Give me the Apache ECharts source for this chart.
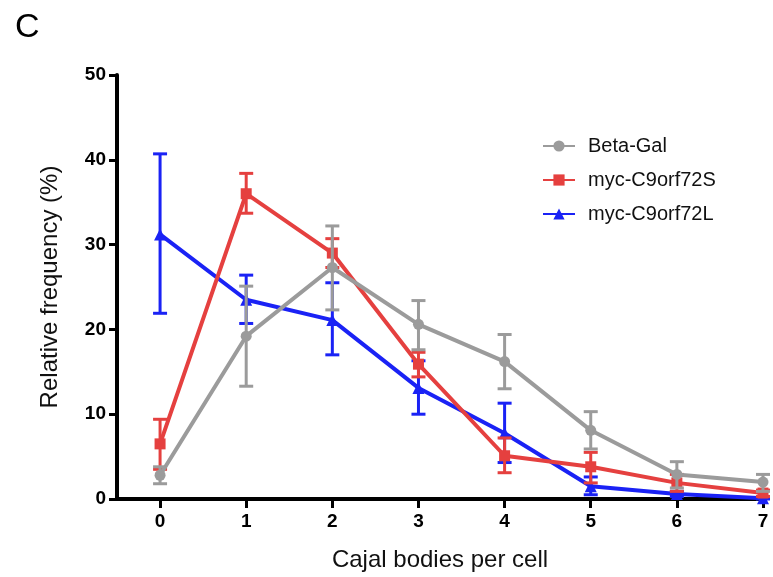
<!DOCTYPE html>
<html>
<head>
<meta charset="utf-8">
<script src="https://cdn.jsdelivr.net/npm/echarts@6/dist/echarts.min.js"></script>
<style>html,body{margin:0;padding:0;background:#fff;}#chart{width:773px;height:577px;}</style>
</head>
<body>
<div id="chart"></div>
<script>
const categories = [0, 1, 2, 3, 4, 5, 6, 7];
const yTicks = [0, 10, 20, 30, 40, 50];
const seriesNames = ['Beta-Gal', 'myc-C9orf72S', 'myc-C9orf72L'];

const betaGal     = [2.8, 19.2, 27.3, 20.6, 16.2, 8.1, 2.9, 2.0];
const betaGalLow  = [1.8, 13.3, 22.3, 17.6, 13.0, 5.9, 1.3, 0.9];
const betaGalHigh = [3.8, 25.1, 32.2, 23.4, 19.4, 10.3, 4.4, 2.9];

const c9S     = [6.5, 36.0, 29.0, 15.9, 5.1, 3.8, 1.9, 0.7];
const c9SLow  = [3.5, 33.7, 27.3, 14.4, 3.1, 1.9, 0.9, 0.3];
const c9SHigh = [9.4, 38.4, 30.7, 17.3, 7.2, 5.5, 2.9, 1.05];

const c9L     = [31.2, 23.5, 21.1, 13.1, 7.75, 1.5, 0.6, 0.1];
const c9LLow  = [21.9, 20.7, 17.0, 10.0, 4.3, 0.5, 0.3, 0.0];
const c9LHigh = [40.7, 26.4, 25.5, 16.3, 11.3, 2.6, 0.9, 0.2];

const colors = { gray: '#9b9b9b', red: '#e5403f', blue: '#1a22f5' };
const FONT = '"Liberation Sans", Arial, Helvetica, sans-serif';

function pairs(vals) { return categories.map((c, i) => [c, vals[i]]); }
function errData(lo, hi) { return categories.map((c, i) => [c, lo[i], hi[i]]); }

function errSeries(name, lo, hi, color, z) {
  return {
    name: name + ' err',
    type: 'custom',
    z: z,
    silent: true,
    data: errData(lo, hi),
    renderItem: function (params, api) {
      const x = api.value(0), l = api.value(1), h = api.value(2);
      const pH = api.coord([x, h]);
      const pL = api.coord([x, l]);
      const w = 7;
      const st = { stroke: color, lineWidth: 3 };
      return {
        type: 'group',
        children: [
          { type: 'line', shape: { x1: pH[0], y1: pH[1], x2: pL[0], y2: pL[1] }, style: st },
          { type: 'line', shape: { x1: pH[0] - w, y1: pH[1], x2: pH[0] + w, y2: pH[1] }, style: st },
          { type: 'line', shape: { x1: pL[0] - w, y1: pL[1], x2: pL[0] + w, y2: pL[1] }, style: st }
        ]
      };
    }
  };
}

function lineSeries(name, vals, color, symbol, size, z) {
  return {
    name: name,
    type: 'line',
    z: z,
    data: pairs(vals),
    symbol: symbol,
    symbolSize: size,
    showAllSymbol: true,
    itemStyle: { color: color },
    lineStyle: { color: color, width: 4 },
    emphasis: { disabled: true },
    animation: false
  };
}

const chart = echarts.init(document.getElementById('chart'));
chart.setOption({
  animation: false,
  backgroundColor: '#fff',
  title: {
    text: 'C',
    left: 10, top: 6,
    textStyle: { fontFamily: FONT, fontSize: 34, fontWeight: 'normal', color: '#000' }
  },
  grid: { left: 117, right: 10, top: 75, bottom: 74, containLabel: false },
  legend: {
    data: seriesNames,
    orient: 'vertical',
    left: 537, top: 131,
    itemWidth: 32, itemHeight: 14, itemGap: 14,
    textStyle: { fontFamily: FONT, fontSize: 20, color: '#111', lineHeight: 20, padding: [0, 0, 0, 8] }
  },
  xAxis: {
    type: 'value',
    min: -0.5, max: 7,
    name: 'Cajal bodies per cell',
    nameLocation: 'middle',
    nameGap: 49,
    nameTextStyle: { fontFamily: FONT, fontSize: 24, color: '#111' },
    axisLine: { show: true, onZero: false, lineStyle: { color: '#000', width: 4 } },
    axisTick: { show: true, customValues: categories, length: 9, lineStyle: { color: '#000', width: 3 } },
    axisLabel: { customValues: categories, margin: 13, fontFamily: FONT, fontSize: 19, fontWeight: 'bold', color: '#000' },
    splitLine: { show: false }
  },
  yAxis: {
    type: 'value',
    min: 0, max: 50, interval: 10,
    name: 'Relative frequency (%)',
    nameLocation: 'middle',
    nameGap: 55,
    nameTextStyle: { fontFamily: FONT, fontSize: 24, color: '#111' },
    axisLine: { show: true, onZero: false, lineStyle: { color: '#000', width: 4 } },
    axisTick: { show: true, length: 8, lineStyle: { color: '#000', width: 3 } },
    axisLabel: { margin: 11, fontFamily: FONT, fontSize: 19, fontWeight: 'bold', color: '#000' },
    splitLine: { show: false }
  },
  series: [
    errSeries('myc-C9orf72L', c9LLow, c9LHigh, colors.blue, 2),
    lineSeries('myc-C9orf72L', c9L, colors.blue, 'triangle', 12, 3),
    errSeries('myc-C9orf72S', c9SLow, c9SHigh, colors.red, 4),
    lineSeries('myc-C9orf72S', c9S, colors.red, 'rect', 11, 5),
    errSeries('Beta-Gal', betaGalLow, betaGalHigh, colors.gray, 6),
    lineSeries('Beta-Gal', betaGal, colors.gray, 'circle', 11, 7)
  ]
});
</script>
</body>
</html>
